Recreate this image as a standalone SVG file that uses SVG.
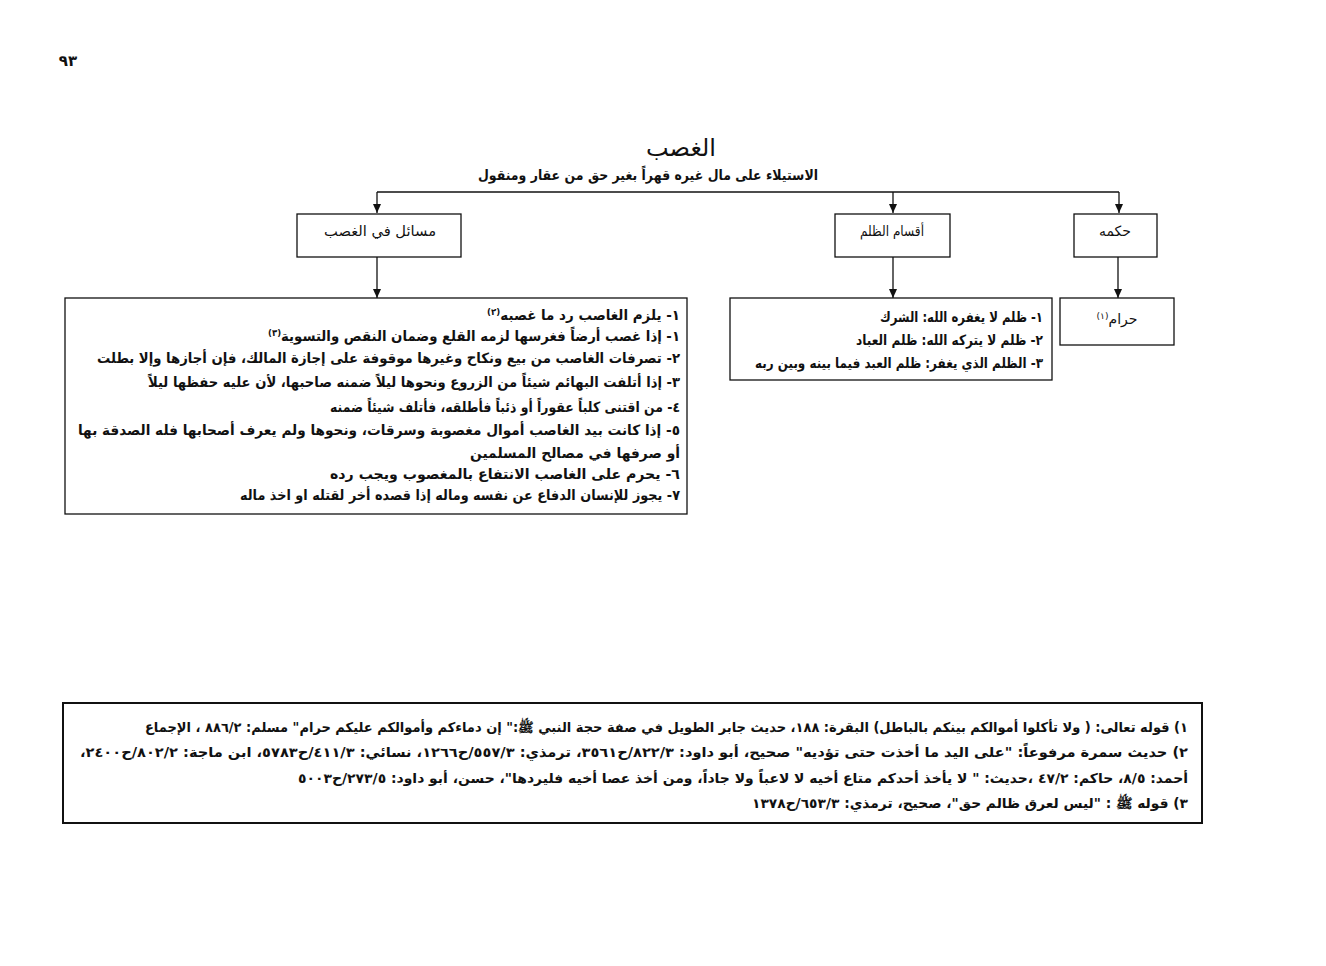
<svg xmlns="http://www.w3.org/2000/svg" width="1326" height="966" viewBox="0 0 1326 966">
<style>
.ar{font-family:"DejaVu Sans",sans-serif;fill:#111;}
.b{font-weight:bold;}
.box{fill:#fff;stroke:#111;stroke-width:1.3;}
.con{fill:none;stroke:#111;stroke-width:1.3;}
.lbl{font-size:14px;}
.item{font-size:14px;font-weight:bold;}
.fn{font-size:13.5px;font-weight:bold;}
.sup{font-size:9px;}
</style>
<defs>
<marker id="arr" markerUnits="userSpaceOnUse" markerWidth="10" markerHeight="9" refX="9" refY="4" orient="auto">
<path d="M0,0 L9,4 L0,8 z" fill="#111"/>
</marker>
</defs>
<rect x="0" y="0" width="1326" height="966" fill="#fff"/>

<text class="ar b" x="68" y="66" font-size="15" text-anchor="middle">٩٣</text>

<g id="title">
<text class="ar" x="681" y="156" font-size="24" text-anchor="middle">الغصب</text>
<text class="ar b" x="648" y="180" font-size="14" text-anchor="middle" direction="rtl" textLength="340" lengthAdjust="spacingAndGlyphs">الاستيلاء على مال غيره قهراً بغير حق من عقار ومنقول</text>
</g>

<g id="connectors">
<path class="con" d="M377,192 H1119"/>
<path class="con" d="M377,192 V213" marker-end="url(#arr)"/>
<path class="con" d="M893,192 V213" marker-end="url(#arr)"/>
<path class="con" d="M1119,192 V213" marker-end="url(#arr)"/>
<path class="con" d="M377,257 V298" marker-end="url(#arr)"/>
<path class="con" d="M893,257 V298" marker-end="url(#arr)"/>
<path class="con" d="M1118,257 V298" marker-end="url(#arr)"/>
</g>

<g id="node-masail">
<rect class="box" x="297" y="214" width="164" height="43"/>
<text class="ar lbl" x="380" y="236" text-anchor="middle" direction="rtl" textLength="112" lengthAdjust="spacingAndGlyphs">مسائل في الغصب</text>
</g>
<g id="node-aqsam">
<rect class="box" x="835" y="214" width="115" height="43"/>
<text class="ar lbl" x="892" y="236" text-anchor="middle" direction="rtl" textLength="64" lengthAdjust="spacingAndGlyphs">أقسام الظلم</text>
</g>
<g id="node-hukm">
<rect class="box" x="1074" y="214" width="83" height="43"/>
<text class="ar lbl" x="1115" y="236" text-anchor="middle" direction="rtl">حكمه</text>
</g>

<g id="node-haram">
<rect class="box" x="1060" y="298" width="114" height="47"/>
<text class="ar" x="1117" y="324" font-size="14" text-anchor="middle" direction="rtl">حرام<tspan class="sup" baseline-shift="super">(١)</tspan></text>
</g>

<g id="node-dhulm">
<rect class="box" x="730" y="298" width="322" height="82"/>
<text class="ar item" x="1043" y="322" direction="rtl" text-anchor="start" textLength="163" lengthAdjust="spacingAndGlyphs">١- ظلم لا يغفره الله: الشرك</text>
<text class="ar item" x="1043" y="345" direction="rtl" text-anchor="start" textLength="187" lengthAdjust="spacingAndGlyphs">٢- ظلم لا يتركه الله: ظلم العباد</text>
<text class="ar item" x="1043" y="368" direction="rtl" text-anchor="start" textLength="288" lengthAdjust="spacingAndGlyphs">٣- الظلم الذي يغفر: ظلم العبد فيما بينه وبين ربه</text>
</g>

<g id="node-masail-list">
<rect class="box" x="65" y="298" width="622" height="216"/>
<text class="ar item" x="680" y="320" direction="rtl" text-anchor="start" textLength="193" lengthAdjust="spacingAndGlyphs">١- يلزم الغاصب رد ما غصبه<tspan class="sup" baseline-shift="super">(٢)</tspan></text>
<text class="ar item" x="680" y="341" direction="rtl" text-anchor="start" textLength="412" lengthAdjust="spacingAndGlyphs">١- إذا غصب أرضاً فغرسها لزمه القلع وضمان النقص والتسوية<tspan class="sup" baseline-shift="super">(٣)</tspan></text>
<text class="ar item" x="680" y="363" direction="rtl" text-anchor="start" textLength="583" lengthAdjust="spacingAndGlyphs">٢- تصرفات الغاصب من بيع ونكاح وغيرها موقوفة على إجازة المالك، فإن أجازها وإلا بطلت</text>
<text class="ar item" x="680" y="387" direction="rtl" text-anchor="start" textLength="532" lengthAdjust="spacingAndGlyphs">٣- إذا أتلفت البهائم شيئاً من الزروع ونحوها ليلاً ضمنه صاحبها، لأن عليه حفظها ليلاً</text>
<text class="ar item" x="680" y="412" direction="rtl" text-anchor="start" textLength="350" lengthAdjust="spacingAndGlyphs">٤- من اقتنى كلباً عقوراً أو ذئباً فأطلقه، فأتلف شيئاً ضمنه</text>
<text class="ar item" x="680" y="435" direction="rtl" text-anchor="start" textLength="602" lengthAdjust="spacingAndGlyphs">٥- إذا كانت بيد الغاصب أموال مغصوبة وسرقات، ونحوها ولم يعرف أصحابها فله الصدقة بها</text>
<text class="ar item" x="680" y="458" direction="rtl" text-anchor="start" textLength="210" lengthAdjust="spacingAndGlyphs">أو صرفها في مصالح المسلمين</text>
<text class="ar item" x="680" y="479" direction="rtl" text-anchor="start" textLength="350" lengthAdjust="spacingAndGlyphs">٦- يحرم على الغاصب الانتفاع بالمغصوب ويجب رده</text>
<text class="ar item" x="680" y="500" direction="rtl" text-anchor="start" textLength="440" lengthAdjust="spacingAndGlyphs">٧- يجوز للإنسان الدفاع عن نفسه وماله إذا قصده أخر لقتله او اخذ ماله</text>
</g>

<g id="footnotes">
<rect x="63" y="703" width="1139" height="120" fill="#fff" stroke="#111" stroke-width="2"/>
<text class="ar fn" x="1188" y="732" direction="rtl" text-anchor="start" textLength="1043" lengthAdjust="spacingAndGlyphs">١) قوله تعالى: ( ولا تأكلوا أموالكم بينكم بالباطل) البقرة: ١٨٨، حديث جابر الطويل في صفة حجة النبي ﷺ:" إن دماءكم وأموالكم عليكم حرام" مسلم: ٢&#x200F;/٨٨٦ ، الإجماع</text>
<text class="ar fn" x="1188" y="757" direction="rtl" text-anchor="start" textLength="1108" lengthAdjust="spacingAndGlyphs">٢) حديث سمرة مرفوعاً: "على اليد ما أخذت حتى تؤديه" صحيح، أبو داود: ٣&#x200F;/٨٢٢&#x200F;/ح٣٥٦١، ترمذي: ٣&#x200F;/٥٥٧&#x200F;/ح١٢٦٦، نسائي: ٣&#x200F;/٤١١&#x200F;/ح٥٧٨٣، ابن ماجة: ٢&#x200F;/٨٠٢&#x200F;/ح٢٤٠٠،</text>
<text class="ar fn" x="1188" y="783" direction="rtl" text-anchor="start" textLength="890" lengthAdjust="spacingAndGlyphs">أحمد: ٥&#x200F;/٨، حاكم: ٢&#x200F;/٤٧ ،حديث: " لا يأخذ أحدكم متاع أخيه لا لاعباً ولا جاداً، ومن أخذ عصا أخيه فليردها"، حسن، أبو داود: ٥&#x200F;/٢٧٣&#x200F;/ح٥٠٠٣</text>
<text class="ar fn" x="1188" y="808" direction="rtl" text-anchor="start" textLength="436" lengthAdjust="spacingAndGlyphs">٣) قوله ﷺ : "ليس لعرق ظالم حق"، صحيح، ترمذي: ٣&#x200F;/٦٥٣&#x200F;/ح١٣٧٨</text>
</g>
</svg>
